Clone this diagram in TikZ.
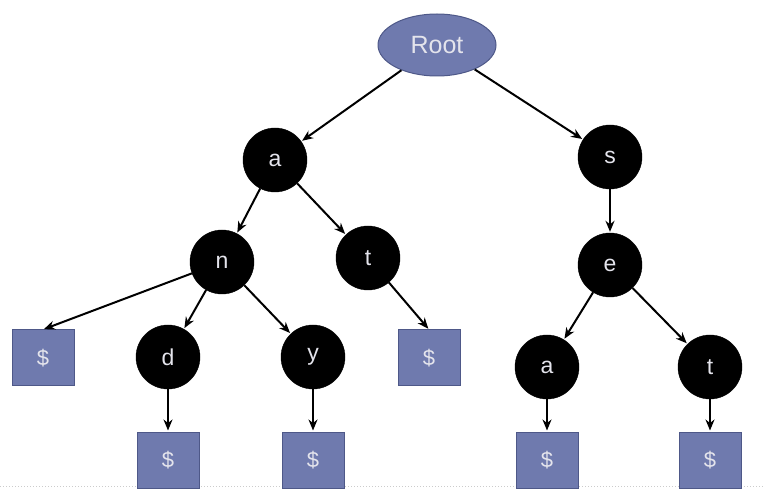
\documentclass[tikz,border=0pt]{standalone}
\usepackage{fontspec}
\setmainfont{Liberation Sans}
\usetikzlibrary{arrows.meta,shapes.geometric}
\definecolor{boxfill}{HTML}{6F7AAE}
\definecolor{boxline}{HTML}{4E5888}
\definecolor{lettercol}{HTML}{E4E4EC}
\tikzset{
  rootnode/.style={ellipse, draw=boxline, line width=1pt, fill=boxfill, minimum width=118pt, minimum height=62pt, inner sep=0pt, text=lettercol, font=\fontsize{25}{28}\selectfont},
  letter/.style={circle, fill=black, draw=black, minimum size=64pt, inner sep=0pt, text=lettercol, font=\fontsize{23}{26}\selectfont},
  endbox/.style={rectangle, draw=boxline, line width=1pt, fill=boxfill, minimum width=62pt, minimum height=56pt, inner sep=0pt, text=lettercol, font=\fontsize{22}{25}\selectfont},
  link/.style={-{Stealth[length=11pt,width=9pt]}, line width=2pt, black, shorten >=1pt}
}
\begin{document}
\begin{tikzpicture}[x=1pt,y=-1pt]
\useasboundingbox (0,0) rectangle (764,489);
\fill[white] (0,0) rectangle (764,489);
\draw[gray!40, line width=1pt, dotted] (0,486) -- (764,486);
\node[rootnode] (root) at (437,45) {Root};
\node[letter] (a) at (275,160) {a};
\node[letter] (s) at (610,157) {s};
\node[letter] (n) at (222,262) {n};
\node[letter] (t) at (368,258) {t};
\node[letter] (e) at (610,265) {e};
\node[letter] (d) at (168,357) {d};
\node[letter] (y) at (313,357) {y};
\node[letter] (a2) at (547,367) {a};
\node[letter] (t2) at (710,367) {t};
\node[endbox] (b1) at (43,358) {\$};
\node[endbox] (b2) at (429,358) {\$};
\node[endbox] (b3) at (168,460) {\$};
\node[endbox] (b4) at (313,460) {\$};
\node[endbox] (b5) at (547,460) {\$};
\node[endbox] (b6) at (710,460) {\$};
\draw[link] (root) -- (a);
\draw[link] (root) -- (s);
\draw[link] (a) -- (n);
\draw[link] (a) -- (t);
\draw[link] (s) -- (e);
\draw[link] (n) -- (b1.north);
\draw[link] (n) -- (d);
\draw[link] (n) -- (y);
\draw[link] (t) -- (b2.north);
\draw[link] (e) -- (a2);
\draw[link] (e) -- (t2);
\draw[link] (d) -- (b3);
\draw[link] (y) -- (b4);
\draw[link] (a2) -- (b5);
\draw[link] (t2) -- (b6);
\end{tikzpicture}
\end{document}
